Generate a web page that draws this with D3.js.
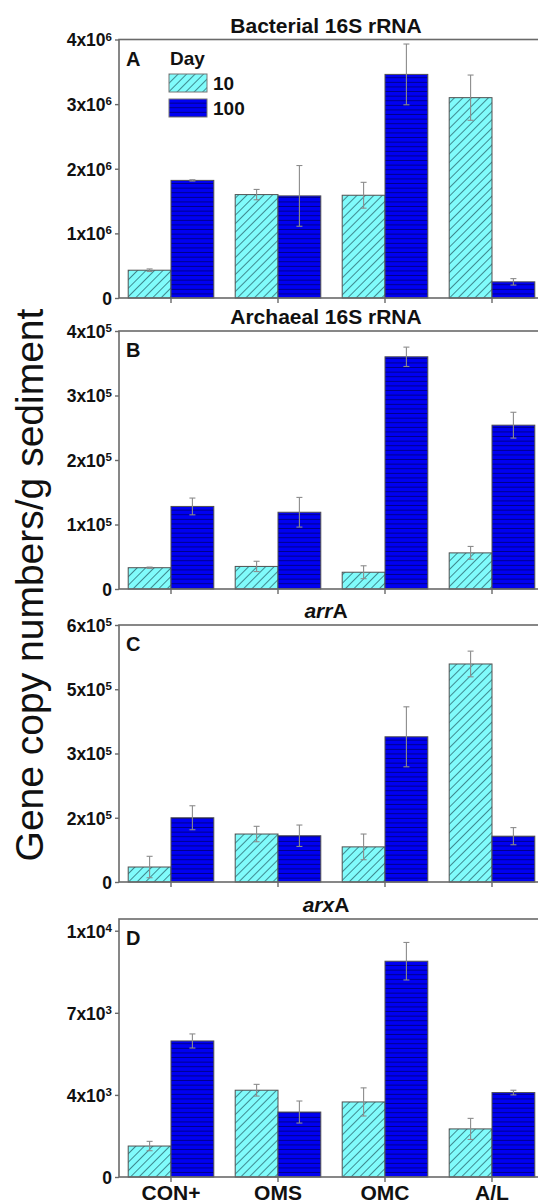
<!DOCTYPE html>
<html>
<head>
<meta charset="utf-8">
<script src="https://cdn.jsdelivr.net/npm/d3@7"></script>
<style>
  body { margin: 0; background: #fff; }
  svg { display: block; font-family: "Liberation Sans", Arial, sans-serif; }
</style>
</head>
<body>
<div id="chart"></div>
<script>
// categories and series
var categories = ["CON+", "OMS", "OMC", "A/L"];
var days = ["10", "100"];

// A: bacterial 16S rRNA
var bactDay10 = [0.43e6, 1.6e6, 1.59e6, 3.1e6];
var bactDay100 = [1.82e6, 1.58e6, 3.46e6, 0.25e6];
var bactErr10 = [0.02e6, 0.08e6, 0.2e6, 0.35e6];
var bactErr100 = [0.01e6, 0.47e6, 0.47e6, 0.05e6];

// B: archaeal 16S rRNA
var archDay10 = [0.33e5, 0.35e5, 0.26e5, 0.56e5];
var archDay100 = [1.28e5, 1.19e5, 3.6e5, 2.54e5];
var archErr10 = [0.01e5, 0.08e5, 0.1e5, 0.1e5];
var archErr100 = [0.13e5, 0.23e5, 0.15e5, 0.2e5];

// C: arrA
var arrDay10 = [0.35e5, 1.12e5, 0.82e5, 5.09e5];
var arrDay100 = [1.5e5, 1.08e5, 3.39e5, 1.07e5];
var arrErr10 = [0.25e5, 0.18e5, 0.3e5, 0.3e5];
var arrErr100 = [0.28e5, 0.25e5, 0.7e5, 0.2e5];

// D: arxA
var arxDay10 = [1.32e3, 3.7e3, 3.2e3, 2.05e3];
var arxDay100 = [5.8e3, 2.77e3, 9.2e3, 3.6e3];
var arxErr10 = [0.2e3, 0.25e3, 0.6e3, 0.45e3];
var arxErr100 = [0.3e3, 0.47e3, 0.8e3, 0.1e3];

// y ticks (value, mantissa, exponent)
var bactTicks = [0, 1e6, 2e6, 3e6, 4e6];
var bactTickLabels = [["0", ""], ["1x10", "6"], ["2x10", "6"], ["3x10", "6"], ["4x10", "6"]];
var archTicks = [0, 1e5, 2e5, 3e5, 4e5];
var archTickLabels = [["0", ""], ["1x10", "5"], ["2x10", "5"], ["3x10", "5"], ["4x10", "5"]];
var arrTicks = [0, 1.5e5, 3e5, 4.5e5, 6e5];
var arrTickLabels = [["0", ""], ["2x10", "5"], ["3x10", "5"], ["5x10", "5"], ["6x10", "5"]];
var arxTicks = [0, 3500, 7000, 10500];
var arxTickLabels = [["0", ""], ["4x10", "3"], ["7x10", "3"], ["1x10", "4"]];

var width = 538, height = 1204;
var axisX = 119, plotRight = 546;

var panels = [
  { letter: "A", title: [["Bacterial 16S rRNA", false]], top: 39.5, bottom: 298, max: 4e6,
    d10: bactDay10, d100: bactDay100, e10: bactErr10, e100: bactErr100, ticks: bactTicks, labels: bactTickLabels },
  { letter: "B", title: [["Archaeal 16S rRNA", false]], top: 331, bottom: 589, max: 4e5,
    d10: archDay10, d100: archDay100, e10: archErr10, e100: archErr100, ticks: archTicks, labels: archTickLabels },
  { letter: "C", title: [["arr", true], ["A", false]], top: 625, bottom: 882, max: 6e5,
    d10: arrDay10, d100: arrDay100, e10: arrErr10, e100: arrErr100, ticks: arrTicks, labels: arrTickLabels },
  { letter: "D", title: [["arx", true], ["A", false]], top: 919, bottom: 1177, max: 11000,
    d10: arxDay10, d100: arxDay100, e10: arxErr10, e100: arxErr100, ticks: arxTicks, labels: arxTickLabels }
];

var svg = d3.select("#chart").append("svg")
  .attr("width", width)
  .attr("height", height);

// patterns
var defs = svg.append("defs");
var hatch = defs.append("pattern")
  .attr("id", "hatch10")
  .attr("patternUnits", "userSpaceOnUse")
  .attr("width", 6).attr("height", 6)
  .attr("patternTransform", "rotate(45)");
hatch.append("rect").attr("width", 6).attr("height", 6).attr("fill", "#80fbfb");
hatch.append("line").attr("x1", 0.5).attr("y1", 0).attr("x2", 0.5).attr("y2", 6)
  .attr("stroke", "#3f8a90").attr("stroke-width", 1);

var horiz = defs.append("pattern")
  .attr("id", "horiz100")
  .attr("patternUnits", "userSpaceOnUse")
  .attr("width", 8).attr("height", 4.6);
horiz.append("rect").attr("width", 8).attr("height", 4.6).attr("fill", "#0000f2");
horiz.append("line").attr("x1", 0).attr("y1", 4.1).attr("x2", 8).attr("y2", 4.1)
  .attr("stroke", "#00006a").attr("stroke-width", 0.8);

var fills = { "10": "url(#hatch10)", "100": "url(#horiz100)" };

var x = d3.scaleBand().domain(categories).range([117.5, 117.5 + 4 * 107]);
var xDay = d3.scaleBand().domain(days).range([x.bandwidth() * 0.1, x.bandwidth() * 0.9]);

panels.forEach(function (p) {
  var y = d3.scaleLinear().domain([0, p.max]).range([p.bottom, p.top]);
  var g = svg.append("g");

  // bars
  var rows = [];
  for (var i = 0; i < categories.length; i++) {
    rows.push({ cat: categories[i], day: "10", v: p.d10[i], e: p.e10[i] });
    rows.push({ cat: categories[i], day: "100", v: p.d100[i], e: p.e100[i] });
  }
  g.selectAll(".bar").data(rows).enter().append("rect")
    .attr("class", "bar")
    .attr("x", function (d) { return x(d.cat) + xDay(d.day); })
    .attr("width", xDay.bandwidth())
    .attr("y", function (d) { return y(d.v); })
    .attr("height", function (d) { return y(0) - y(d.v); })
    .attr("fill", function (d) { return fills[d.day]; })
    .attr("stroke", "#505050")
    .attr("stroke-width", 1);

  // error bars
  var eb = g.selectAll(".err").data(rows).enter().append("g")
    .attr("class", "err")
    .attr("stroke", "#8c8c8c")
    .attr("stroke-width", 1.1);
  eb.append("line")
    .attr("x1", function (d) { return x(d.cat) + xDay(d.day) + xDay.bandwidth() / 2; })
    .attr("x2", function (d) { return x(d.cat) + xDay(d.day) + xDay.bandwidth() / 2; })
    .attr("y1", function (d) { return y(d.v + d.e); })
    .attr("y2", function (d) { return y(d.v - d.e); });
  [1, -1].forEach(function (s) {
    eb.append("line")
      .attr("x1", function (d) { return x(d.cat) + xDay(d.day) + xDay.bandwidth() / 2 - 3; })
      .attr("x2", function (d) { return x(d.cat) + xDay(d.day) + xDay.bandwidth() / 2 + 3; })
      .attr("y1", function (d) { return y(d.v + s * d.e); })
      .attr("y2", function (d) { return y(d.v + s * d.e); });
  });

  // frame (top + left + bottom)
  g.append("rect")
    .attr("x", axisX).attr("y", p.top)
    .attr("width", plotRight - axisX).attr("height", p.bottom - p.top)
    .attr("fill", "none").attr("stroke", "#6a6a6a").attr("stroke-width", 1.6);

  // y axis
  var yAxis = g.append("g")
    .attr("transform", "translate(" + axisX + ",0)")
    .call(d3.axisLeft(y).tickValues(p.ticks).tickSize(4).tickPadding(3).tickFormat(""));
  yAxis.select(".domain").remove();
  yAxis.selectAll(".tick line").attr("stroke", "#6a6a6a").attr("stroke-width", 1.4);
  yAxis.selectAll(".tick").each(function (d, i) {
    var t = d3.select(this).append("text")
      .attr("x", -7).attr("dy", "0.36em")
      .attr("text-anchor", "end")
      .attr("fill", "#111")
      .style("font-size", "17.5px")
      .style("font-weight", "bold");
    var lab = p.labels[i];
    t.append("tspan").text(lab[0]);
    if (lab[1] !== "") {
      t.append("tspan").attr("dy", "-0.5em").style("font-size", "11.5px").text(lab[1]);
    }
  });

  // x axis ticks
  var xAxis = g.append("g")
    .attr("transform", "translate(0," + p.bottom + ")")
    .call(d3.axisBottom(x).tickSize(5).tickFormat(""));
  xAxis.select(".domain").remove();
  xAxis.selectAll(".tick line").attr("stroke", "#6a6a6a").attr("stroke-width", 1.4);

  // title
  var title = svg.append("text")
    .attr("x", 326).attr("y", p.top - 7)
    .attr("text-anchor", "middle")
    .attr("fill", "#111")
    .style("font-size", "21px")
    .style("font-weight", "bold");
  p.title.forEach(function (part) {
    title.append("tspan").style("font-style", part[1] ? "italic" : "normal").text(part[0]);
  });

  // panel letter
  svg.append("text")
    .attr("x", 126).attr("y", p.top + 26)
    .attr("fill", "#111")
    .style("font-size", "20px")
    .style("font-weight", "bold")
    .text(p.letter);
});

// category labels
svg.append("g").selectAll("text").data(categories).enter().append("text")
  .attr("x", function (d) { return x(d) + x.bandwidth() / 2; })
  .attr("y", 1200)
  .attr("text-anchor", "middle")
  .attr("fill", "#111")
  .style("font-size", "21px")
  .style("font-weight", "bold")
  .text(function (d) { return d; });

// legend
svg.append("text").attr("x", 170).attr("y", 65)
  .attr("fill", "#111").style("font-size", "19px").style("font-weight", "bold").text("Day");
var leg = svg.append("g").selectAll("g").data(days).enter().append("g")
  .attr("transform", function (d, i) { return "translate(169," + (74 + i * 25) + ")"; });
leg.append("rect").attr("width", 38).attr("height", 18)
  .attr("fill", function (d) { return fills[d]; })
  .attr("stroke", "#777").attr("stroke-width", 1);
leg.append("text").attr("x", 44).attr("y", 16)
  .attr("fill", "#111").style("font-size", "19px").style("font-weight", "bold")
  .text(function (d) { return d; });

// y label
svg.append("text")
  .attr("transform", "translate(43,585) rotate(-90)")
  .attr("text-anchor", "middle")
  .attr("fill", "#111")
  .style("font-size", "39px")
  .text("Gene copy numbers/g sediment");
</script>
</body>
</html>
